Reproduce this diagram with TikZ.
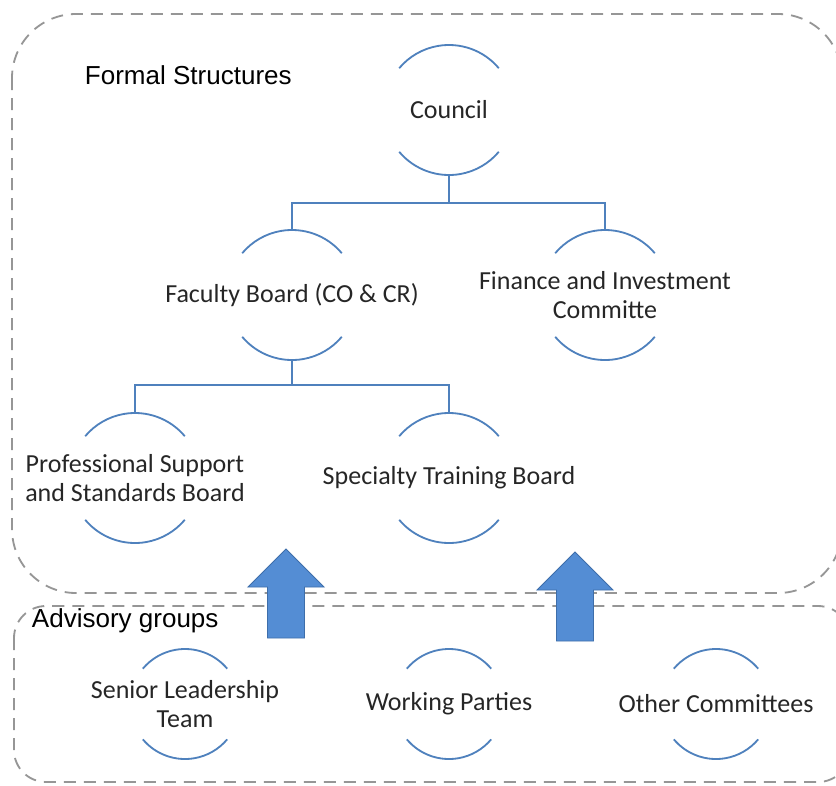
\documentclass[tikz,border=0pt]{standalone}
\usepackage{fontspec}
\setmainfont{Carlito}
\newfontfamily\headfont{Liberation Sans}
\definecolor{ringblue}{RGB}{79,129,189}
\definecolor{arrowfill}{RGB}{84,141,212}
\definecolor{arrowedge}{RGB}{62,110,170}
\definecolor{boxgray}{RGB}{150,150,150}
\begin{document}
\begin{tikzpicture}[x=0.025cm,y=-0.025cm,
  ring/.style={circle,inner sep=0pt,outer sep=0pt,minimum size=3.25cm},
  smallring/.style={circle,inner sep=0pt,outer sep=0pt,minimum size=2.75cm},
  txt/.style={align=center,text=black!85,font=\fontsize{18.5}{20}\selectfont},
  ringline/.style={draw=ringblue,line width=1.3pt},
  link/.style={draw=ringblue,line width=1.3pt},
  dashbox/.style={draw=boxgray,line width=1.3pt,dash pattern=on 0.3cm off 0.2cm},
  heading/.style={anchor=west,text=black,font=\headfont\fontsize{18.5}{20}\selectfont}]
\useasboundingbox (0,0) rectangle (836,785);
\begin{scope}
\draw[dashbox,rounded corners=1.6cm] (12,14) rectangle (842,593);
\draw[dashbox,rounded corners=0.8cm] (14,606) rectangle (850,782);
\end{scope}
\node[heading] (formal) at (80,75) {Formal Structures};
\node[heading] (advisory) at (27,621) {Advisory groups};
% formal tree
\node[ring,label={[txt]center:Council}] (council) at (449,110) {};
\node[ring,label={[txt]center:Faculty Board (CO \& CR)}] (faculty) at (292,295) {};
\node[ring,label={[txt]center:Finance and Investment\\Committe}] (finance) at (605,295) {};
\node[ring,label={[txt]center:Professional Support\\and Standards Board}] (profsupport) at (135,478) {};
\node[ring,label={[txt]center:Specialty Training Board}] (specialty) at (449,478) {};
% advisory groups
\node[smallring,label={[txt]center:Senior Leadership\\Team}] (senior) at (185,704) {};
\node[smallring,label={[txt]center:Working Parties}] (working) at (449,704) {};
\node[smallring,label={[txt]center:Other Committees}] (other) at (716,704) {};
\foreach \n in {council,faculty,finance,profsupport,specialty} {
  \draw[ringline] (\n.40) arc[start angle=40,end angle=140,radius=1.625cm]
    (\n.220) arc[start angle=220,end angle=320,radius=1.625cm];
}
\foreach \n in {senior,working,other} {
  \draw[ringline] (\n.40) arc[start angle=40,end angle=140,radius=1.375cm]
    (\n.220) arc[start angle=220,end angle=320,radius=1.375cm];
}
\coordinate (j1) at (449,203);
\coordinate (j2) at (292,385);
\draw[link] (council.south) -- (j1);
\draw[link] (faculty.north) |- (j1) -| (finance.north);
\draw[link] (faculty.south) -- (j2);
\draw[link] (profsupport.north) |- (j2) -| (specialty.north);
% block arrows
\foreach \x/\y in {286/549,575/552} {
  \draw[fill=arrowfill,draw=arrowedge,line width=0.6pt]
    (\x,\y) -- (\x+38,\y+38) -- (\x+18.5,\y+38) -- (\x+18.5,\y+89)
    -- (\x-18.5,\y+89) -- (\x-18.5,\y+38) -- (\x-38,\y+38) -- cycle;
}
\end{tikzpicture}
\end{document}
